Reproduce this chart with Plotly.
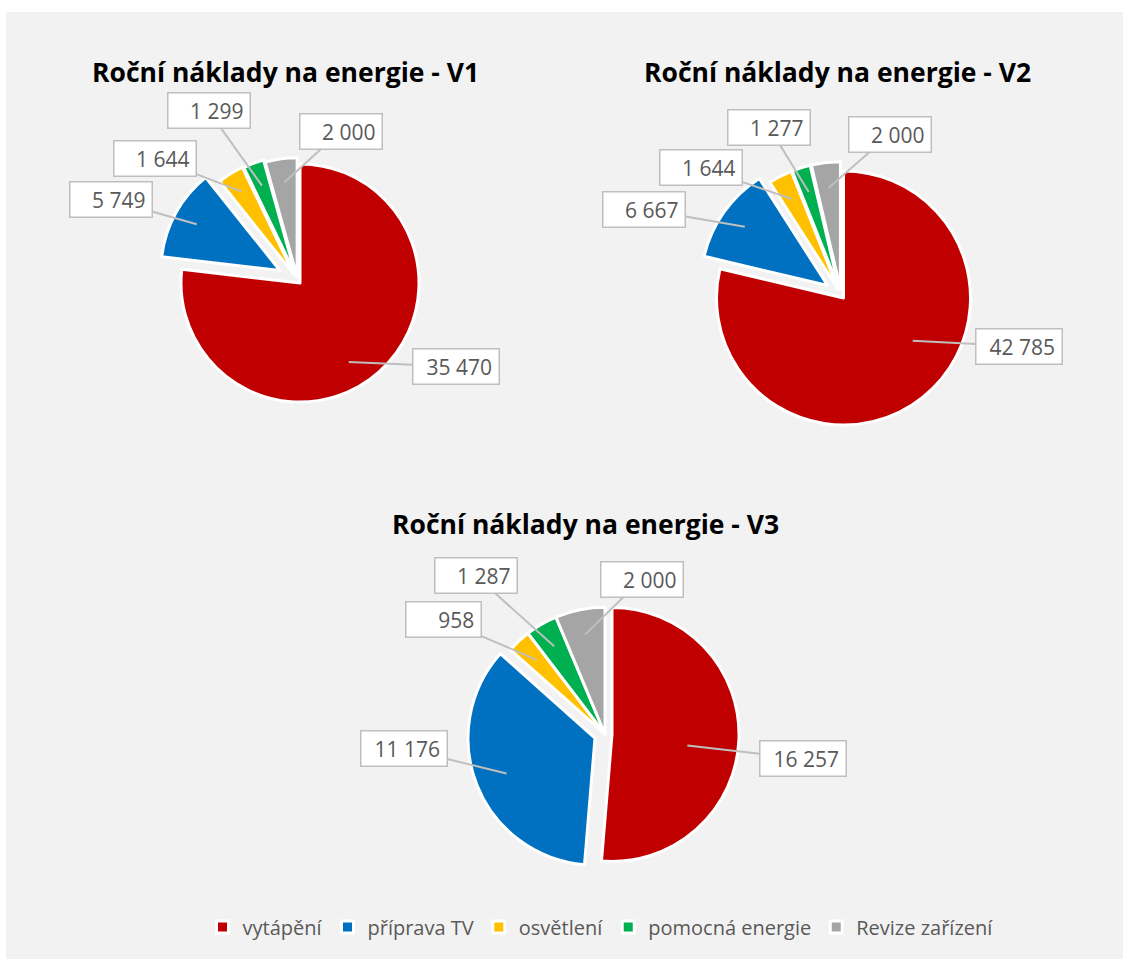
import math
import plotly.graph_objects as go

W, H = 1123, 959

# ---------------- data ----------------
categories = ["vytápění", "příprava TV", "osvětlení", "pomocná energie", "Revize zařízení"]
titles = ["Roční náklady na energie - V1",
          "Roční náklady na energie - V2",
          "Roční náklady na energie - V3"]
values_v1 = [35470, 5749, 1644, 1299, 2000]
values_v2 = [42785, 6667, 1644, 1277, 2000]
values_v3 = [16257, 11176, 958, 1287, 2000]

# ---------------- style / layout ----------------
colors = ["#C00000", "#0070C0", "#FFC000", "#00B050", "#A5A5A5"]
BG = "#F2F2F2"
LABEL_COLOR = "#595959"
BOX_COLOR = "#BFBFBF"
FONT = "Open Sans"

charts = [
    dict(values=values_v1, title=titles[0], corner=(300, 283), r=119,
         pull=[0.03, 0.17, 0.06, 0.05, 0.03], title_xy=(285.5, 72),
         frac=[0.78, 0.8, 0.82, 0.8, 0.8], skew=[10, 0, 0, 0, 0],
         boxes=[(455.8, 366.7), (110.8, 199.7), (154.5, 158.0), (208.7, 110.8), (340.5, 131.3)]),
    dict(values=values_v2, title=titles[1], corner=(843.5, 298), r=127,
         pull=[0.03, 0.13, 0.05, 0.05, 0.05], title_xy=(837.5, 72),
         frac=[0.64, 0.8, 0.8, 0.8, 0.8], skew=[-20, 0, 0, 0, 0],
         boxes=[(1019.0, 346.5), (644.2, 209.3), (700.8, 167.7), (769.2, 127.2), (890.0, 134.3)]),
    dict(values=values_v3, title=titles[2], corner=(612, 734.5), r=127,
         pull=[0.055, 0.085, 0.0, 0.0, 0.0], title_xy=(585.8, 524),
         frac=[0.6, 0.75, 0.8, 0.8, 0.8], skew=[6, 0, 0, 0, 0],
         boxes=[(802.8, 758.7), (403.8, 748.3), (443.8, 619.7), (475.8, 575.8), (641.7, 579.3)]),
]


def fmt(v):
    return f"{v:,}".replace(",", " ")


def direction(theta_deg):
    t = math.radians(theta_deg)
    return math.sin(t), -math.cos(t)  # screen coords (y down)


fig = go.Figure()
annotations = []

for idx, ch in enumerate(charts):
    vals = ch["values"]
    total = sum(vals)
    mids = []
    acc = 0.0
    for v in vals:
        mids.append((acc + v / 2) / total * 360.0)
        acc += v
    r = ch["r"]
    pulls = ch["pull"]
    mp = max(pulls)
    d0 = direction(mids[0])
    cx = ch["corner"][0] - pulls[0] * r * d0[0]
    cy = ch["corner"][1] - pulls[0] * r * d0[1]
    half = r * (1 + mp)
    fig.add_trace(go.Pie(
        values=vals, labels=categories, sort=False, direction="clockwise", rotation=0,
        pull=pulls, textinfo="none", hoverinfo="label+value+percent",
        marker=dict(colors=colors, line=dict(color="white", width=3)),
        domain=dict(x=[(cx - half) / W, (cx + half) / W],
                    y=[1 - (cy + half) / H, 1 - (cy - half) / H]),
        showlegend=(idx == 0), name=ch["title"],
    ))
    # title
    annotations.append(dict(
        text=ch["title"], x=ch["title_xy"][0] / W, y=1 - ch["title_xy"][1] / H,
        xref="paper", yref="paper", showarrow=False, xanchor="center", yanchor="middle",
        font=dict(family=FONT, size=26.5, color="#000000", weight=700)))
    # callouts
    for i, v in enumerate(vals):
        pd = direction(mids[i])
        d = direction(mids[i] + ch["skew"][i])
        px = cx + pulls[i] * r * pd[0] + ch["frac"][i] * r * d[0]
        py = cy + pulls[i] * r * pd[1] + ch["frac"][i] * r * d[1]
        bx, by = ch["boxes"][i]
        txt = fmt(v)
        bw = 66 + 3.6 * len(txt)
        annotations.append(dict(
            text=txt, x=px / W, y=1 - py / H, xref="paper", yref="paper",
            showarrow=True, arrowhead=0, arrowwidth=2, arrowcolor=BOX_COLOR,
            ax=bx - px, ay=by - py, axref="pixel", ayref="pixel", standoff=0,
            bgcolor="white", bordercolor=BOX_COLOR, borderwidth=1.5, borderpad=6,
            width=bw - 15, height=37 - 15, align="right", valign="middle",
            font=dict(family=FONT, size=21, color=LABEL_COLOR)))

fig.update_layout(
    width=W, height=H, autosize=False,
    margin=dict(l=0, r=0, t=0, b=0),
    paper_bgcolor="white",
    font=dict(family=FONT, color=LABEL_COLOR),
    annotations=annotations,
    shapes=[dict(type="rect", xref="paper", yref="paper", x0=6 / W, x1=1.0,
                 y0=0.0, y1=1 - 12 / H, fillcolor=BG, line=dict(width=0), layer="below")],
    legend=dict(orientation="h", x=600.5 / W, xanchor="center", y=1 - 927 / H, yanchor="middle",
                font=dict(family=FONT, size=20, color=LABEL_COLOR), bgcolor="rgba(0,0,0,0)",
                traceorder="normal"),
)

fig.write_html("out.html", config={"displayModeBar": False},
               post_script="document.body.style.margin='0';document.body.style.overflow='hidden';")
